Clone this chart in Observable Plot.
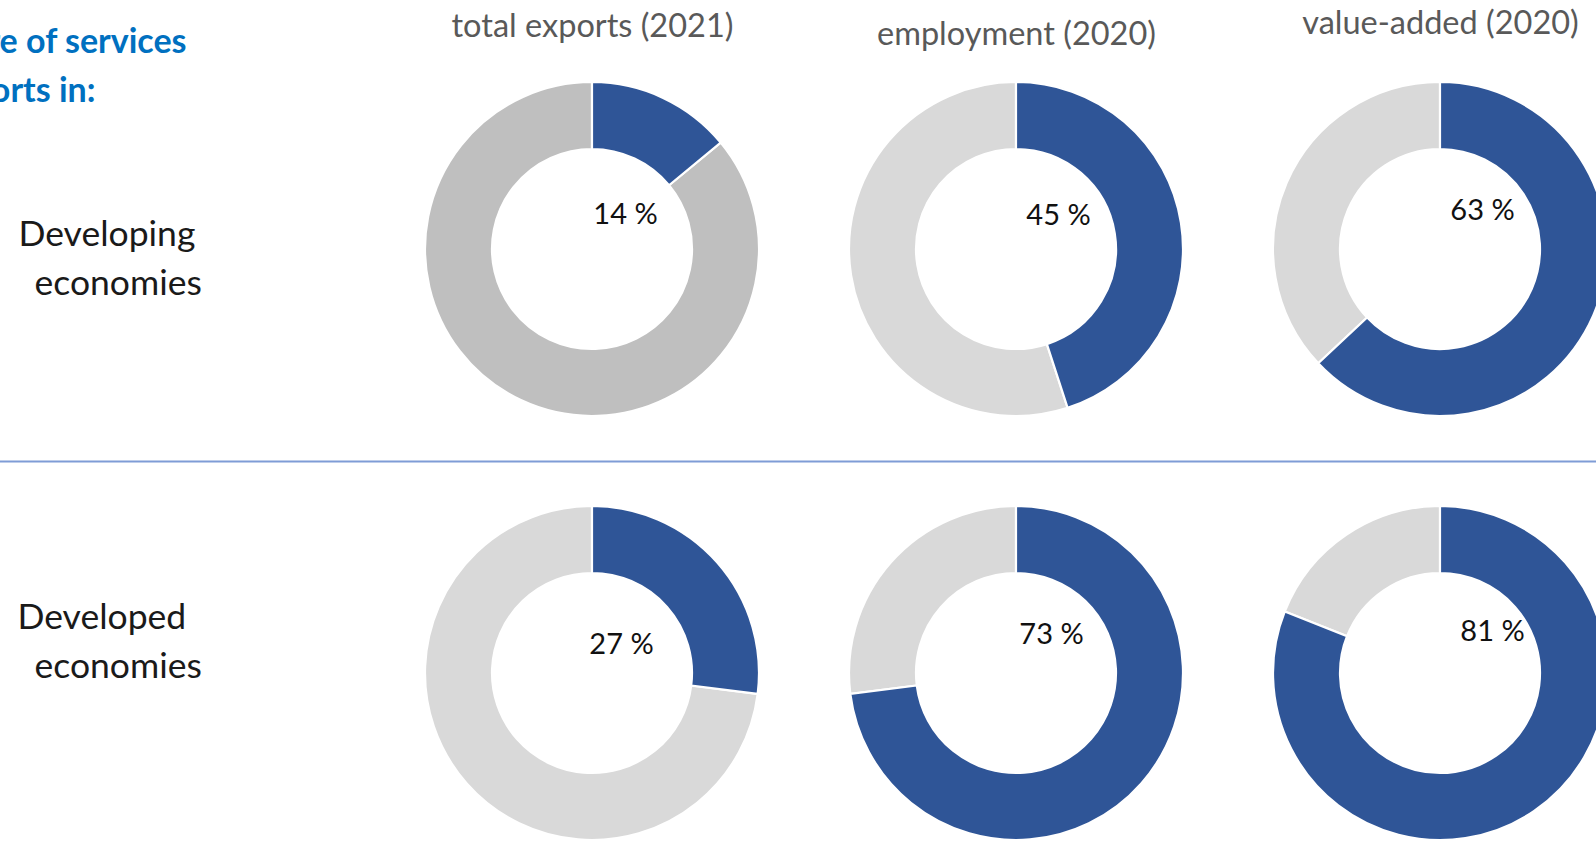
<!DOCTYPE html>
<html>
<head>
<meta charset="utf-8">
<script src="https://cdn.jsdelivr.net/npm/d3@7"></script>
<script src="https://cdn.jsdelivr.net/npm/@observablehq/plot@0.6"></script>
<style>
  html, body { margin: 0; padding: 0; background: #fff; overflow: hidden; }
  #chart svg { display: block; overflow: visible; }
</style>
</head>
<body>
<div id="chart"></div>
<script>
// ---- data ----
const titleLines = ["Share of services", "exports in:"];
const columns = ["total exports (2021)", "employment (2020)", "value-added (2020)"];
const rows = ["Developing economies", "Developed economies"];
const rowLabelLines = [["Developing", "economies"], ["Developed", "economies"]];
// share of services exports (%) per row, in column order
const developingShares = [14, 45, 63];
const developedShares = [27, 73, 81];

// ---- derived table ----
const shares = [developingShares, developedShares];
const cells = [];
rows.forEach((r, ri) => columns.forEach((c, ci) => cells.push({row: r, ri, col: c, ci, value: shares[ri][ci]})));

// ---- style / layout ----
const FONT = "Lato, 'Open Sans', sans-serif";
const BLUE = "#2F5597";
const GREY_DARK = "#BFBFBF";
const GREY_LIGHT = "#D9D9D9";
const OUTER = 167, INNER = 100;
const headerDy = [26, 34, 23];
// label offsets (px) from each donut centre: [row][col] -> [dx, dy]
const labelOffsets = [[[33, -35], [42, -34], [42, -39]], [[29, -29], [35, -39], [52, -42]]];

// donut mark: custom render using Plot's x / y scales for centres
function donuts(index, scales) {
  const sx = scales.x, sy = scales.y;
  const arc = d3.arc().innerRadius(INNER).outerRadius(OUTER);
  const g = d3.create("svg:g");
  for (const d of cells) {
    const cx = sx(d.ci), cy = sy(d.ri);
    const a = d.value / 100 * 2 * Math.PI;
    const rest = (d.ri === 0 && d.ci === 0) ? GREY_DARK : GREY_LIGHT;
    const gg = g.append("g").attr("transform", `translate(${cx},${cy})`);
    gg.append("path")
      .attr("d", arc({startAngle: a, endAngle: 2 * Math.PI}))
      .attr("fill", rest).attr("stroke", "#fff").attr("stroke-width", 2.2);
    gg.append("path")
      .attr("d", arc({startAngle: 0, endAngle: a}))
      .attr("fill", BLUE).attr("stroke", "#fff").attr("stroke-width", 2.2);
  }
  return g.node();
}

const marks = [
  // separator between the two rows
  Plot.ruleY([0.5], {stroke: "#7F9CD6", strokeWidth: 2})
];
marks.push(donuts);

// percentage labels
cells.forEach(d => {
  const [ox, oy] = labelOffsets[d.ri][d.ci];
  marks.push(Plot.text([d], {
    x: "ci", y: "ri", text: c => `${c.value} %`,
    dx: ox, dy: oy, fontSize: 29, fill: "#111", fontFamily: FONT
  }));
});

// column headers
columns.forEach((c, i) => {
  marks.push(Plot.text([c], {
    x: () => i, frameAnchor: "top", dy: headerDy[i], lineAnchor: "middle",
    text: d => d, fontSize: 32.5, fill: "#595959", fontFamily: FONT
  }));
});

// title (cut at the left edge as in the original)
marks.push(Plot.text([titleLines[0]], {frameAnchor: "top-left", dx: 186, dy: 42, textAnchor: "end", lineAnchor: "middle",
  text: d => d, fontSize: 34, fontWeight: "bold", fill: "#0070C0", fontFamily: FONT}));
marks.push(Plot.text([titleLines[1]], {frameAnchor: "top-left", dx: 95, dy: 91, textAnchor: "end", lineAnchor: "middle",
  text: d => d, fontSize: 34, fontWeight: "bold", fill: "#0070C0", fontFamily: FONT}));

// row labels
const rowLabelPos = [[[18, 234], [34, 283]], [[17, 617], [34, 666]]];
rowLabelLines.forEach((lines, ri) => lines.forEach((t, li) => {
  const [px, py] = rowLabelPos[ri][li];
  marks.push(Plot.text([t], {frameAnchor: "top-left", dx: px, dy: py, textAnchor: "start", lineAnchor: "middle",
    text: d => d, fontSize: 35.5, fill: "#1a1a1a", fontFamily: FONT}));
}));

const chart = Plot.plot({
  width: 1596,
  height: 842,
  margin: 0,
  x: {type: "linear", domain: [0, 2], range: [592, 1440], axis: null},
  y: {type: "linear", domain: [0, 1], range: [249, 673], axis: null},
  style: {background: "#fff", overflow: "visible"},
  marks
});
document.getElementById("chart").appendChild(chart);
</script>
</body>
</html>
